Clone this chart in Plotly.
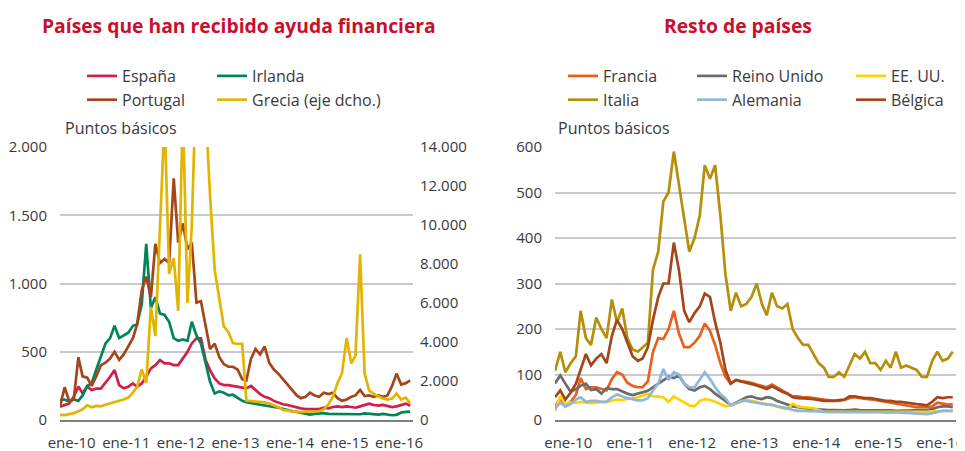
import pandas as pd
import plotly.graph_objects as go

# Monthly observations (mid-month), Oct 2009 - Mar 2016
fechas = pd.date_range("2009-10-01", periods=78, freq="MS") + pd.Timedelta(days=14)

# ---- Panel 1: countries with financial aid (basis points) ----
espana = [98, 110, 120, 170, 245, 195, 245, 220, 230, 230, 270, 317,
          366, 256, 232, 244, 268, 244, 268, 317, 378, 402, 439, 415,
          415, 402, 402, 451, 500, 561, 598, 598, 439, 366, 305, 268,
          256, 256, 249, 244, 240, 232, 250, 220, 190, 170, 160, 140,
          125, 115, 110, 100, 95, 85, 80, 80, 75, 80, 90, 85,
          95, 100, 95, 100, 95, 90, 100, 110, 120, 110, 105, 110,
          100, 95, 100, 110, 120, 105]
irlanda = [145, 150, 135, 150, 140, 180, 250, 270, 370, 470, 560, 600,
           690, 600, 620, 640, 690, 700, 850, 1290, 820, 900, 780, 770,
           720, 600, 580, 590, 580, 720, 620, 560, 420, 280, 195, 210,
           200, 180, 185, 165, 140, 130, 125, 120, 115, 110, 100, 95,
           90, 80, 70, 65, 60, 55, 50, 40, 45, 48, 50, 45,
           45, 42, 40, 42, 45, 40, 42, 48, 45, 42, 40, 45,
           40, 35, 38, 55, 60, 62]
portugal = [100, 240, 140, 150, 460, 320, 310, 250, 320, 400, 420, 450,
            500, 440, 480, 540, 600, 700, 950, 1050, 900, 1290, 1150, 1180,
            1150, 1770, 1300, 1440, 1250, 1300, 860, 870, 700, 520, 560, 460,
            410, 390, 390, 370, 300, 290, 450, 520, 480, 540, 420, 370,
            340, 300, 260, 220, 180, 160, 170, 200, 180, 170, 200, 190,
            200, 160, 140, 150, 170, 180, 220, 175, 180, 170, 180, 170,
            180, 250, 340, 260, 270, 290]
grecia = [260, 250, 300, 350, 450, 550, 750, 650, 720, 700, 780, 850,
          880, 950, 1050, 1150, 1400, 1700, 2600, 1900, 5800, 4300, 9500, 15500,
          7500, 8300, 5600, 16000, 6000, 10000, 18000, 20000, 16000, 11500, 7700, 6300,
          4800, 4500, 3950, 3900, 3900, 1000, 980, 950, 940, 900, 850, 760,
          650, 520, 480, 430, 420, 410, 420, 430, 410, 450, 550, 800,
          1200, 1900, 2400, 4200, 2900, 3300, 8500, 2400, 1500, 1350, 1200, 1100,
          1050, 1100, 1350, 1050, 1150, 850]

# ---- Panel 2: rest of countries (basis points) ----
francia = [28, 48, 30, 40, 55, 92, 68, 72, 72, 68, 65, 90,
           105, 100, 82, 75, 72, 72, 85, 150, 180, 178, 200, 240,
           190, 160, 160, 170, 185, 212, 196, 165, 125, 95, 80, 88,
           85, 84, 82, 78, 75, 72, 78, 72, 66, 60, 52, 52,
           50, 50, 48, 46, 45, 44, 42, 42, 44, 48, 50, 48,
           47, 46, 44, 42, 40, 38, 36, 34, 32, 30, 28, 28,
           28, 30, 38, 36, 34, 35]
reino_unido = [80, 98, 80, 62, 68, 75, 80, 66, 68, 58, 70, 68,
               68, 62, 58, 55, 58, 60, 64, 72, 80, 88, 95, 92,
               98, 80, 68, 65, 72, 75, 68, 58, 50, 42, 32, 38,
               45, 50, 52, 48, 46, 50, 48, 42, 38, 34, 30, 28,
               26, 25, 24, 23, 22, 22, 22, 21, 21, 22, 23, 22,
               22, 21, 21, 22, 22, 21, 20, 20, 20, 21, 22, 22,
               22, 24, 28, 30, 30, 28]
eeuu = [20, 52, 35, 38, 38, 40, 38, 37, 38, 40, 40, 42,
        45, 44, 46, 48, 50, 54, 58, 52, 52, 50, 40, 52,
        45, 38, 32, 30, 42, 46, 44, 40, 35, 30, 32, 36,
        40, 44, 42, 40, 38, 35, 32, 30, 26, 24, 36, 30,
        28, 27, 26, 22, 18, 18, 18, 18, 17, 17, 17, 18,
        18, 17, 17, 17, 17, 18, 18, 18, 17, 17, 18, 18,
        18, 19, 20, 20, 20, 20]
italia = [108, 150, 105, 125, 140, 240, 180, 165, 225, 200, 180, 265,
          215, 245, 180, 155, 150, 160, 170, 330, 370, 480, 500, 590,
          520, 440, 370, 400, 450, 560, 530, 560, 450, 320, 240, 280,
          250, 255, 270, 300, 255, 230, 280, 250, 245, 255, 200, 180,
          165, 165, 145, 125, 115, 95, 95, 105, 95, 120, 145, 135,
          150, 125, 125, 110, 130, 115, 150, 115, 120, 115, 110, 95,
          95, 130, 150, 130, 135, 150]
alemania = [25, 38, 30, 35, 45, 50, 40, 42, 42, 40, 40, 50,
            56, 52, 48, 46, 43, 43, 48, 65, 80, 112, 88, 105,
            100, 80, 72, 72, 88, 105, 90, 72, 57, 48, 32, 38,
            42, 42, 40, 38, 36, 34, 34, 30, 28, 26, 22, 20,
            20, 20, 19, 19, 18, 18, 18, 18, 17, 18, 18, 18,
            18, 17, 17, 17, 16, 17, 17, 16, 16, 15, 14, 13,
            13, 15, 17, 20, 20, 20]
belgica = [50, 65, 45, 60, 80, 110, 145, 120, 135, 145, 125, 185,
           220, 200, 170, 140, 130, 135, 160, 220, 270, 300, 300, 390,
           330, 240, 215, 235, 250, 278, 270, 215, 170, 110, 80, 88,
           85, 82, 80, 76, 72, 68, 74, 68, 62, 58, 50, 48,
           48, 47, 46, 44, 42, 42, 42, 44, 45, 52, 52, 50,
           48, 48, 46, 44, 42, 42, 40, 40, 38, 36, 35, 34,
           32, 40, 50, 48, 50, 50]

tick_fechas = pd.to_datetime(["2010-01-01", "2011-01-01", "2012-01-01", "2013-01-01",
                              "2014-01-01", "2015-01-01", "2016-01-01"])
tick_textos = ["ene-10", "ene-11", "ene-12", "ene-13", "ene-14", "ene-15", "ene-16"]

FONT = "Open Sans"
TXT = "#3a3a3a"
TITLE_COL = "#C8102E"
GRID = "#CACACA"

# page body has an 8px default margin: the 965x451 figure is drawn at (8, 8)
OFF = 8
W, H = 965, 451

def fx(px):
    return (px - OFF) / W

def fy(py):
    return 1 - (py - OFF) / H

fig = go.Figure()

def add(y, name, color, xa, ya, legend):
    fig.add_trace(go.Scatter(x=fechas, y=y, name=name, mode="lines",
                             line=dict(color=color, width=2.7),
                             xaxis=xa, yaxis=ya, legend=legend))

# left panel
add(espana, "España", "#D21F47", "x", "y", "legend")
add(irlanda, "Irlanda", "#00845A", "x", "y", "legend2")
add(portugal, "Portugal", "#A4461C", "x", "y", "legend")
add(grecia, "Grecia (eje dcho.)", "#E3B500", "x", "y2", "legend2")
# right panel
add(francia, "Francia", "#E8601C", "x2", "y3", "legend3")
add(reino_unido, "Reino Unido", "#6B6B6B", "x2", "y3", "legend4")
add(eeuu, "EE. UU.", "#FFD100", "x2", "y3", "legend5")
add(italia, "Italia", "#B58E0A", "x2", "y3", "legend3")
add(alemania, "Alemania", "#8FB6DB", "x2", "y3", "legend4")
add(belgica, "Bélgica", "#A4461C", "x2", "y3", "legend5")

xr = ["2009-10-15", "2016-04-03"]
xcommon = dict(type="date", range=xr, tickvals=tick_fechas, ticktext=tick_textos,
               showgrid=False, showline=True, linecolor="#7F7F7F", linewidth=2,
               ticks="", ticklabelstandoff=8, automargin=False,
               tickfont=dict(family=FONT, size=15, color=TXT))
ycommon = dict(showgrid=True, gridcolor=GRID, gridwidth=1.5, zeroline=False,
               ticks="", tickformat=",d", automargin=False,
               tickfont=dict(family=FONT, size=15, color=TXT))

ydom = [fy(420), fy(147)]
fig.update_layout(
    template="none",
    width=W, height=H,
    margin=dict(l=0, r=0, t=0, b=0, autoexpand=False),
    paper_bgcolor="white", plot_bgcolor="white",
    separators=",.",
    font=dict(family=FONT, color=TXT),
    xaxis=dict(domain=[fx(60), fx(413)], anchor="y", **xcommon),
    xaxis2=dict(domain=[fx(555), fx(956)], anchor="y3", **xcommon),
    yaxis=dict(domain=ydom, anchor="x", range=[0, 2000], dtick=500,
               ticklabelstandoff=12, **ycommon),
    yaxis2=dict(domain=ydom, anchor="x", overlaying="y", side="right",
                range=[0, 14000], dtick=2000, showgrid=False, zeroline=False,
                ticks="", tickformat=",d", ticklabelstandoff=6, automargin=False,
                tickfont=dict(family=FONT, size=15, color=TXT)),
    yaxis3=dict(domain=ydom, anchor="x2", range=[0, 600], dtick=100,
                ticklabelstandoff=12, **ycommon),
)

leg = dict(orientation="v", yanchor="top", xanchor="left", bgcolor="rgba(0,0,0,0)",
           font=dict(family=FONT, size=16, color=TXT), itemwidth=30,
           tracegroupgap=0, borderwidth=0)
ytop = fy(59)
fig.update_layout(
    legend=dict(x=fx(82), y=ytop, **leg),
    legend2=dict(x=fx(212), y=ytop, **leg),
    legend3=dict(x=fx(563), y=ytop, **leg),
    legend4=dict(x=fx(692), y=ytop, **leg),
    legend5=dict(x=fx(851), y=ytop, **leg),
)

fig.add_annotation(text="<b>Países que han recibido ayuda financiera</b>",
                   x=fx(239), y=fy(25), xref="paper", yref="paper",
                   xanchor="center", yanchor="middle", showarrow=False,
                   font=dict(family=FONT, size=19.3, color=TITLE_COL))
fig.add_annotation(text="<b>Resto de países</b>",
                   x=fx(738), y=fy(25), xref="paper", yref="paper",
                   xanchor="center", yanchor="middle", showarrow=False,
                   font=dict(family=FONT, size=19.3, color=TITLE_COL))
for xp in (63, 556):
    fig.add_annotation(text="Puntos básicos", x=fx(xp), y=fy(128),
                       xref="paper", yref="paper", xanchor="left", yanchor="middle",
                       showarrow=False, font=dict(family=FONT, size=16, color=TXT))

fig.write_html("out.html")
